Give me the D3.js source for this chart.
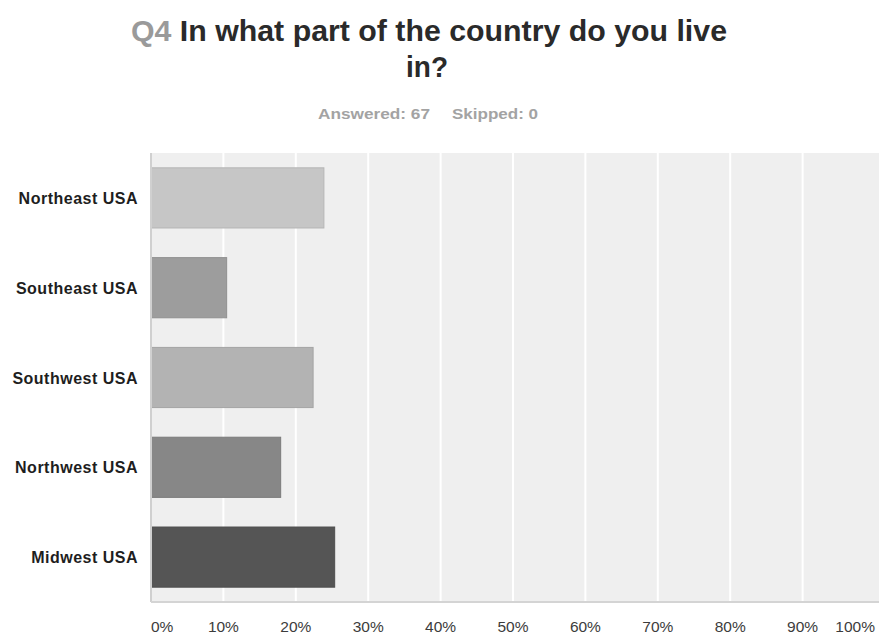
<!DOCTYPE html>
<html>
<head>
<meta charset="utf-8">
<script src="https://cdn.jsdelivr.net/npm/d3@7"></script>
<style>
  html, body { margin: 0; padding: 0; background: #ffffff; }
  svg { display: block; }
  text { font-family: "Liberation Sans", Arial, sans-serif; }
</style>
</head>
<body>
<svg id="chart" width="879" height="636"></svg>
<script>
// Survey question Q4: share of respondents by region (67 answered)
const categories = ["Northeast USA", "Southeast USA", "Southwest USA", "Northwest USA", "Midwest USA"];
const percentages = [23.88, 10.45, 22.39, 17.91, 25.37];
const barColors = ["#c6c6c6", "#9d9d9d", "#b3b3b3", "#878787", "#555555"];
const tickValues = [0, 10, 20, 30, 40, 50, 60, 70, 80, 90, 100];
const tickLabels = ["0%", "10%", "20%", "30%", "40%", "50%", "60%", "70%", "80%", "90%", "100%"];
const questionNo = "Q4";
const titleLines = ["In what part of the country do you live", "in?"];
const answered = 67, skipped = 0;

const svg = d3.select("#chart");
const W = 879;

const plot = { left: 151, right: 875, top: 153, bottom: 602 };

const x = d3.scaleLinear().domain([0, 100]).range([plot.left, plot.right]);
const y = d3.scaleBand().domain(categories).range([plot.top, plot.bottom])
  .paddingInner(0.33).paddingOuter(0.165);

// Title
const t1 = svg.append("text")
  .attr("x", 429).attr("y", 41)
  .attr("text-anchor", "middle")
  .attr("font-size", 30).attr("font-weight", "bold")
  .attr("textLength", 596).attr("lengthAdjust", "spacingAndGlyphs");
t1.append("tspan").attr("fill", "#9a9a9a").text(questionNo + " ");
t1.append("tspan").attr("fill", "#2a2a2a").text(titleLines[0]);

svg.append("text")
  .attr("x", 427).attr("y", 77)
  .attr("text-anchor", "middle")
  .attr("font-size", 30).attr("font-weight", "bold")
  .attr("fill", "#2a2a2a")
  .attr("textLength", 42).attr("lengthAdjust", "spacingAndGlyphs")
  .text(titleLines[1]);

// Response counts
svg.append("text")
  .attr("x", 318).attr("y", 118.5)
  .attr("font-size", 15).attr("font-weight", "bold").attr("fill", "#a3a3a3")
  .attr("textLength", 112).attr("lengthAdjust", "spacingAndGlyphs")
  .text("Answered: " + answered);
svg.append("text")
  .attr("x", 452).attr("y", 118.5)
  .attr("font-size", 15).attr("font-weight", "bold").attr("fill", "#a3a3a3")
  .attr("textLength", 86).attr("lengthAdjust", "spacingAndGlyphs")
  .text("Skipped: " + skipped);

// Plot background
svg.append("rect")
  .attr("x", plot.left).attr("y", plot.top)
  .attr("width", W - plot.left).attr("height", plot.bottom - plot.top)
  .attr("fill", "#efefef");

// Vertical gridlines
svg.append("g")
  .selectAll("line")
  .data(tickValues.filter(v => v > 0 && v < 100))
  .join("line")
  .attr("x1", d => x(d)).attr("x2", d => x(d))
  .attr("y1", plot.top).attr("y2", plot.bottom)
  .attr("stroke", "#ffffff").attr("stroke-width", 2);

// Bars
svg.append("g")
  .selectAll("rect")
  .data(categories)
  .join("rect")
  .attr("x", x(0))
  .attr("y", d => y(d))
  .attr("width", (d, i) => x(percentages[i]) - x(0))
  .attr("height", y.bandwidth())
  .attr("fill", (d, i) => barColors[i])
  .attr("stroke", (d, i) => d3.color(barColors[i]).darker(0.25))
  .attr("stroke-width", 1);

// Axis lines
svg.append("line")
  .attr("x1", plot.left).attr("x2", plot.left)
  .attr("y1", plot.top).attr("y2", plot.bottom)
  .attr("stroke", "#d0d0d0").attr("stroke-width", 2);
svg.append("line")
  .attr("x1", plot.left).attr("x2", W)
  .attr("y1", plot.bottom).attr("y2", plot.bottom)
  .attr("stroke", "#d4d4d4").attr("stroke-width", 2);

// Category labels
svg.append("g")
  .selectAll("text")
  .data(categories)
  .join("text")
  .attr("x", 138)
  .attr("y", d => y(d) + y.bandwidth() / 2 + 6)
  .attr("text-anchor", "end")
  .attr("font-size", 16).attr("font-weight", "bold")
  .attr("letter-spacing", 0.5)
  .attr("fill", "#1e1e1e")
  .text(d => d);

// Percentage tick labels: first left-aligned, last right-aligned, the rest centred
const lastTick = tickValues.length - 1;
svg.append("g")
  .selectAll("text")
  .data(tickValues)
  .join("text")
  .attr("x", d => x(d))
  .attr("y", 632)
  .attr("text-anchor", (d, i) => i === 0 ? "start" : (i === lastTick ? "end" : "middle"))
  .attr("font-size", 15.5)
  .attr("fill", "#3c3c3c")
  .text((d, i) => tickLabels[i]);
</script>
</body>
</html>
